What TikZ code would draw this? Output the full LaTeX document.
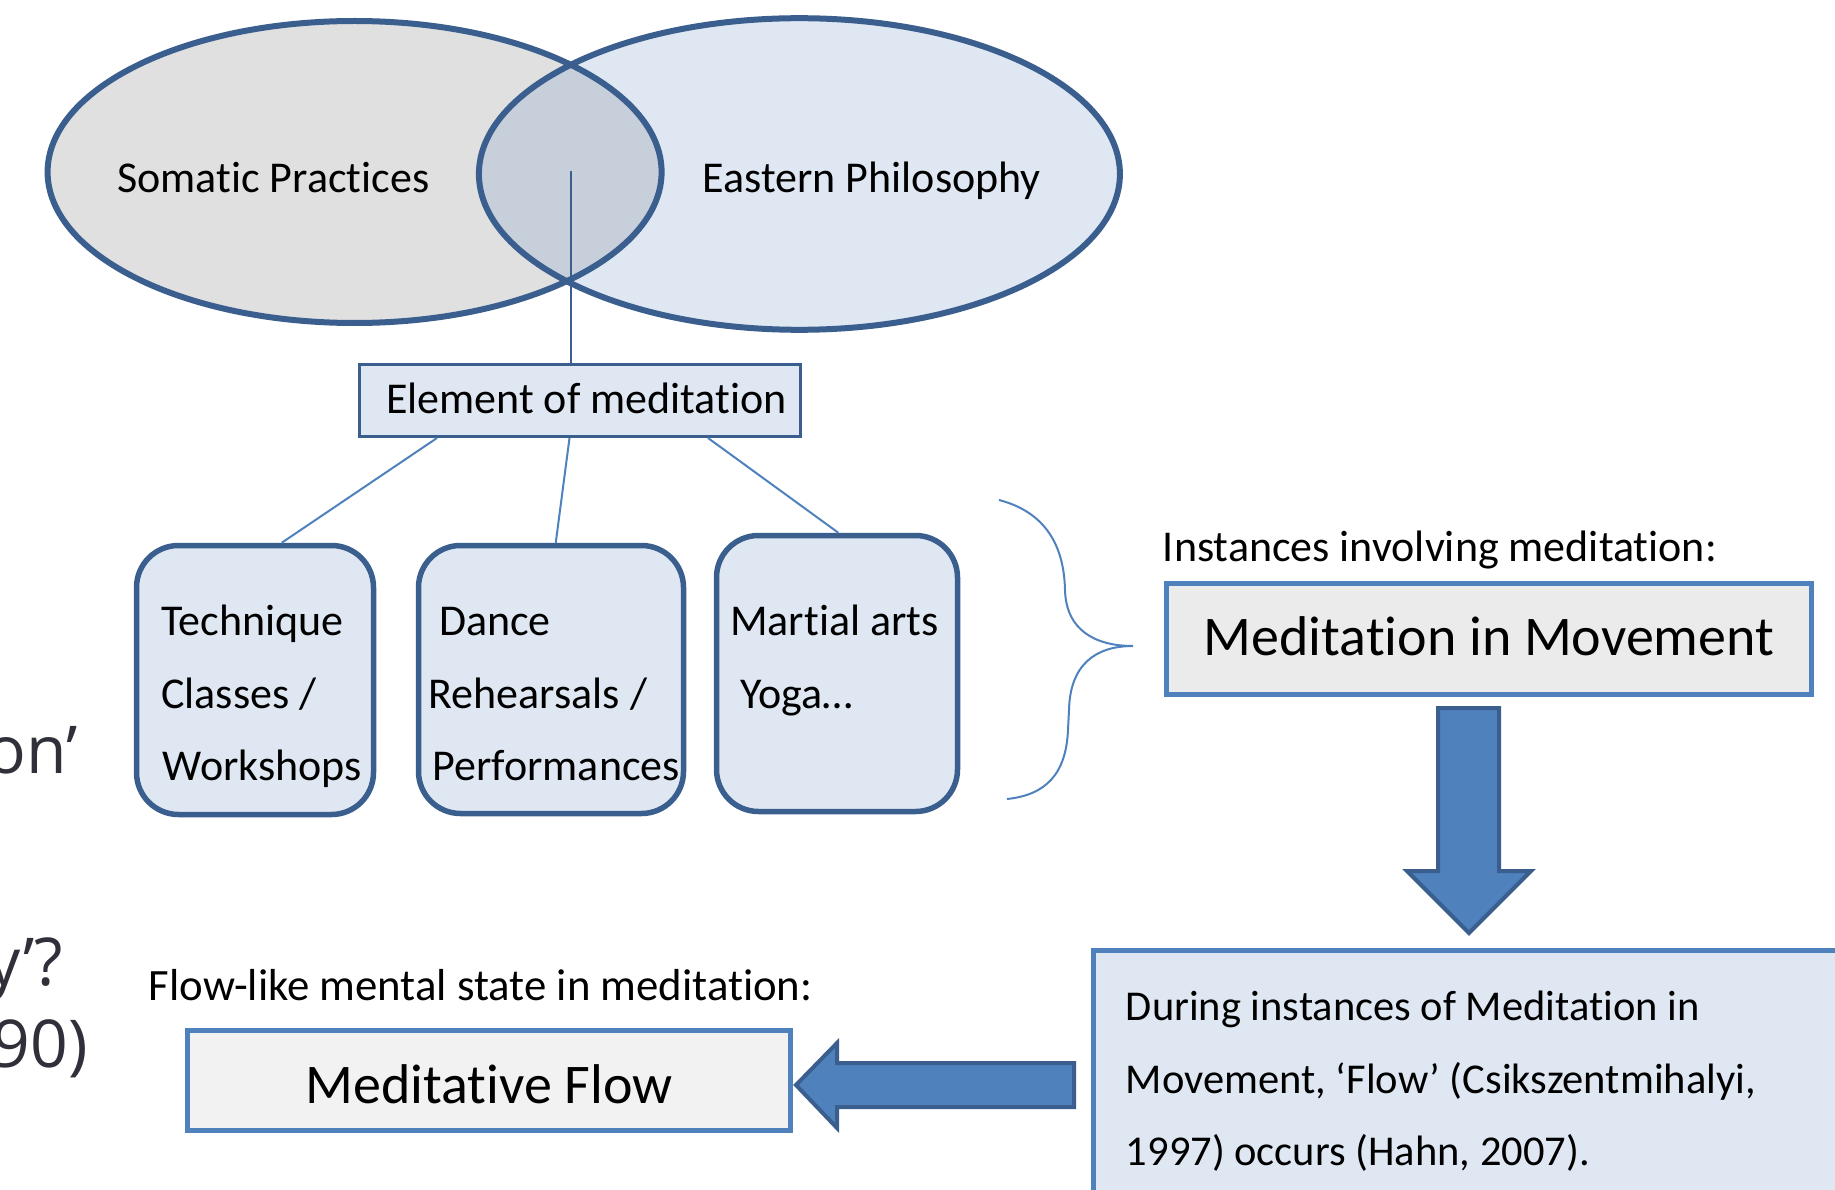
\documentclass[tikz,border=0pt]{standalone}
\usepackage{fontspec}
\setmainfont{Carlito}[Ligatures=CommonOff]
\newfontfamily\osans{Open Sans}
\usetikzlibrary{shapes.geometric}
\definecolor{dkblue}{HTML}{3A5F8E}
\definecolor{acc}{HTML}{4F81BD}
\definecolor{ltblue}{HTML}{DFE7F2}
\definecolor{ltgray}{HTML}{E0E0E0}
\definecolor{lenscol}{HTML}{C7CFDB}
\definecolor{boxgray}{HTML}{EBEBEB}
\definecolor{flowgray}{HTML}{F2F2F2}
\definecolor{bgtext}{HTML}{30303A}
\begin{document}
\begin{tikzpicture}[x=1pt,y=-1pt,
  txt/.style={anchor=base west, inner sep=0pt, font=\fontsize{44}{53}\selectfont},
  bigtxt/.style={font=\fontsize{56}{66}\selectfont},
  bgtxt/.style={anchor=base east, inner sep=0pt, text=bgtext, font=\osans\fontsize{66}{78}\selectfont},
  venn/.style={ellipse, inner sep=0pt},
  vennline/.style={draw=dkblue, line width=6pt},
  elembox/.style={rectangle, draw=dkblue, fill=ltblue, line width=3pt, inner sep=0pt},
  childbox/.style={rectangle, draw=dkblue, fill=ltblue, line width=5.5pt, rounded corners=42pt, inner sep=0pt},
  accbox/.style={rectangle, draw=acc, line width=5pt, inner sep=0pt},
  conn/.style={draw=acc, line width=2pt},
  blockarrow/.style={fill=acc, draw=dkblue, line width=4pt, line join=miter}
]
\useasboundingbox (0,0) rectangle (1835,1190);
\clip (0,0) rectangle (1835,1190);

% background partial texts at the left edge
\node[bgtxt] (bg1) at (78,773) {on’};
\node[bgtxt] (bg2) at (63,985) {y’?};
\node[bgtxt] (bg3) at (88,1067) {90)};

% Venn diagram
\node[venn, fill=ltgray, minimum width=614pt, minimum height=302pt] (somatic) at (354.6,172) {};
\node[venn, fill=ltblue, minimum width=641pt, minimum height=311.6pt] (eastern) at (799.4,174) {};
\begin{scope}
  \clip (somatic.center) ellipse [x radius=307pt, y radius=151pt];
  \fill[lenscol] (eastern.center) ellipse [x radius=320.5pt, y radius=155.8pt];
\end{scope}
\draw[vennline] (somatic.center) ellipse [x radius=307pt, y radius=151pt];
\draw[vennline] (eastern.center) ellipse [x radius=320.5pt, y radius=155.8pt];
\node[txt] (somtxt) at (117,193) {Somatic Practices};
\node[txt] (easttxt) at (702.6,193) {Eastern Philosophy};
\coordinate (lensc) at (570.5,171);

% Element of meditation
\node[elembox, minimum width=441pt, minimum height=72pt] (elem) at (580,400.5) {};
\node[txt] (elemtxt) at (385.8,413.3) {Element of meditation};
\draw[draw=dkblue, line width=2pt] (lensc) -- (lensc |- elem.north);

% child boxes
\node[childbox, minimum width=237pt, minimum height=269pt] (c1) at (255,680) {};
\node[childbox, minimum width=265pt, minimum height=268pt] (c2) at (551,679.5) {};
\node[childbox, minimum width=241pt, minimum height=276pt] (c3) at (837,673.5) {};
\draw[conn] ([xshift=79pt]elem.south west) -- ([xshift=148pt]c1.north west);
\draw[conn] ([xshift=211.5pt]elem.south west) -- ([xshift=140pt]c2.north west);
\draw[conn] ([xshift=350pt]elem.south west) -- ([xshift=124.6pt]c3.north west);

\node[txt] (c1a) at (161,635) {Technique};
\node[txt] (c1b) at (161,708) {Classes /};
\node[txt] (c1c) at (162.6,780) {Workshops};
\node[txt] (c2a) at (438.8,635) {Dance};
\node[txt] (c2b) at (428.6,708) {Rehearsals /};
\node[txt] (c2c) at (432.4,780) {Performances};
\node[txt] (c3a) at (730,635) {Martial arts};
\node[txt] (c3b) at (740,708) {Yoga…};

% brace
\draw[draw=acc, line width=2pt] (999,500) .. controls (1045,512) and (1064,545) .. (1065,590)
  .. controls (1066,630) and (1095,646) .. (1133,646)
  .. controls (1095,646) and (1070,665) .. (1069,710)
  -- (1068,730)
  .. controls (1066,775) and (1045,795) .. (1007,799);

% Meditation in Movement
\node[txt] (insttxt) at (1162.7,561.7) {Instances involving meditation:};
\node[accbox, fill=boxgray, minimum width=645pt, minimum height=111pt,
      bigtxt, text height=33.4pt, text depth=0pt] (mim) at (1489,639) {Meditation in Movement};

% down block arrow
\draw[blockarrow] (1438,708) -- (1499,708) -- (1499,871) -- (1531,871) -- (1469,933)
  -- (1407,871) -- (1438,871) -- cycle;

% bottom right box
\node[accbox, fill=ltblue, minimum width=810pt, minimum height=300pt] (dur) at (1498,1100) {};
\node[txt, font=\fontsize{42.5}{51}\selectfont] (dur1) at (1125.7,1020) {During instances of Meditation in};
\node[txt, font=\fontsize{42.5}{51}\selectfont] (dur2) at (1125.7,1093) {Movement, ‘Flow’ (Csikszentmihalyi,};
\node[txt, font=\fontsize{42.5}{51}\selectfont] (dur3) at (1125.7,1165) {1997) occurs (Hahn, 2007).};

% left block arrow
\draw[blockarrow] (1074,1063) -- (837,1063) -- (837,1043) -- (796,1085) -- (837,1128)
  -- (837,1107) -- (1074,1107) -- cycle;

% Meditative Flow
\node[txt, font=\fontsize{44.8}{53}\selectfont] (flowlbl) at (148.6,1000) {Flow-like mental state in meditation:};
\node[accbox, fill=flowgray, minimum width=603pt, minimum height=100pt,
      bigtxt, text height=45pt, text depth=0pt] (flow) at (489,1080.5) {Meditative Flow};
\end{tikzpicture}
\end{document}
